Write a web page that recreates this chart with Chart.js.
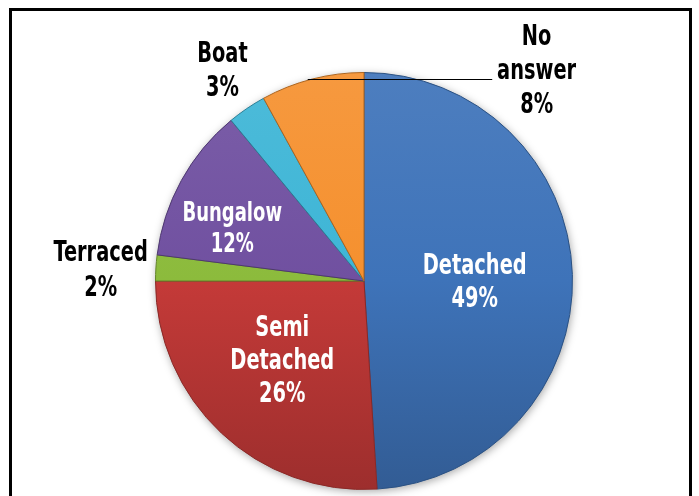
<!DOCTYPE html>
<html>
<head>
<meta charset="utf-8">
<script src="https://cdn.jsdelivr.net/npm/chart.js@4.4.1/dist/chart.umd.min.js"></script>
<style>
  html, body { margin: 0; padding: 0; background: #fff; overflow: hidden; }
  #wrap { position: relative; width: 699px; height: 496px; }
  #frame { position: absolute; left: 9px; top: 8px; width: 677px; height: 500px; border: 3px solid #000; }
  canvas { position: absolute; left: 0; top: 0; }
</style>
</head>
<body>
<div id="wrap">
  <div id="frame"></div>
  <canvas id="chart" width="699" height="496"></canvas>
</div>
<script>
const categories = ['Detached', 'Semi Detached', 'Terraced', 'Bungalow', 'Boat', 'No answer'];
const shares = [49, 26, 2, 12, 3, 8];
const labelLines = [
  ['Detached', '49%'],
  ['Semi', 'Detached', '26%'],
  ['Terraced', '2%'],
  ['Bungalow', '12%'],
  ['Boat', '3%'],
  ['No', 'answer', '8%']
];
const sliceColors = ['#3E73B9', '#C43A38', '#8CBB3C', '#7050A0', '#3DB5D6', '#F5902E'];

// label block centres, in units of the pie radius from its centre
const labelOffsets = [[0.531, 0.01], [-0.392, 0.388], [-1.263, -0.045], [-0.632, -0.246], [-0.679, -1.004], [0.828, -1.004]];
const labelInside = [true, true, false, true, false, false];
const labelSize = [28, 28, 28, 26, 28, 28];
const labelGap = [33, 33, 35, 31, 34, 34];
const condense = 0.77;

function shade(hex, f) {
  const n = parseInt(hex.slice(1), 16);
  let r = n >> 16, g = (n >> 8) & 255, b = n & 255;
  const t = f < 0 ? 0 : 255, p = Math.abs(f);
  r = Math.round(r + (t - r) * p);
  g = Math.round(g + (t - g) * p);
  b = Math.round(b + (t - b) * p);
  return 'rgb(' + r + ',' + g + ',' + b + ')';
}

const pieShadow = {
  id: 'pieShadow',
  beforeDatasetsDraw(chart) {
    const arc = chart.getDatasetMeta(0).data[0];
    if (!arc) return;
    const ctx = chart.ctx;
    ctx.save();
    ctx.shadowColor = 'rgba(0,0,0,0.35)';
    ctx.shadowBlur = 8;
    ctx.shadowOffsetX = 1;
    ctx.shadowOffsetY = 2;
    ctx.fillStyle = '#fff';
    ctx.beginPath();
    ctx.arc(arc.x, arc.y, arc.outerRadius, 0, Math.PI * 2);
    ctx.fill();
    ctx.restore();
  }
};

const sliceLabels = {
  id: 'sliceLabels',
  afterDatasetsDraw(chart) {
    const arcs = chart.getDatasetMeta(0).data;
    const ctx = chart.ctx;
    const cx = arcs[0].x, cy = arcs[0].y, r = arcs[0].outerRadius;
    ctx.save();
    // leader line for "No answer"
    ctx.strokeStyle = '#000';
    ctx.lineWidth = 1;
    ctx.beginPath();
    ctx.moveTo(cx - 0.27 * r, Math.round(cy - 0.971 * r) + 0.5);
    ctx.lineTo(cx + 0.615 * r, Math.round(cy - 0.971 * r) + 0.5);
    ctx.stroke();

    ctx.textAlign = 'center';
    ctx.textBaseline = 'middle';
    labelLines.forEach((lines, i) => {
      const x = cx + labelOffsets[i][0] * r;
      const y = cy + labelOffsets[i][1] * r;
      ctx.font = 'bold ' + labelSize[i] + 'px "DejaVu Sans Condensed", "DejaVu Sans", sans-serif';
      ctx.fillStyle = labelInside[i] ? '#fff' : '#000';
      const top = y - (lines.length - 1) * labelGap[i] / 2;
      lines.forEach((s, k) => {
        ctx.save();
        ctx.translate(x, top + k * labelGap[i]);
        ctx.scale(condense, 1);
        ctx.fillText(s, 0, 0);
        ctx.restore();
      });
    });
    ctx.restore();
  }
};

new Chart(document.getElementById('chart'), {
  type: 'pie',
  data: {
    labels: categories,
    datasets: [{
      data: shares,
      backgroundColor: (c) => {
        const base = sliceColors[c.dataIndex];
        const area = c.chart.chartArea;
        if (!area) return base;
        const g = c.chart.ctx.createLinearGradient(0, area.top, 0, area.bottom);
        g.addColorStop(0, shade(base, 0.08));
        g.addColorStop(0.5, base);
        g.addColorStop(1, shade(base, -0.2));
        return g;
      },
      borderColor: sliceColors.map((c) => shade(c, -0.3)),
      borderWidth: 1
    }]
  },
  options: {
    responsive: false,
    animation: false,
    devicePixelRatio: 1,
    layout: { padding: { left: 155, right: 126, top: 72, bottom: 6 } },
    plugins: {
      legend: { display: false },
      title: { display: false },
      tooltip: { enabled: false }
    }
  },
  plugins: [pieShadow, sliceLabels]
});
</script>
</body>
</html>
